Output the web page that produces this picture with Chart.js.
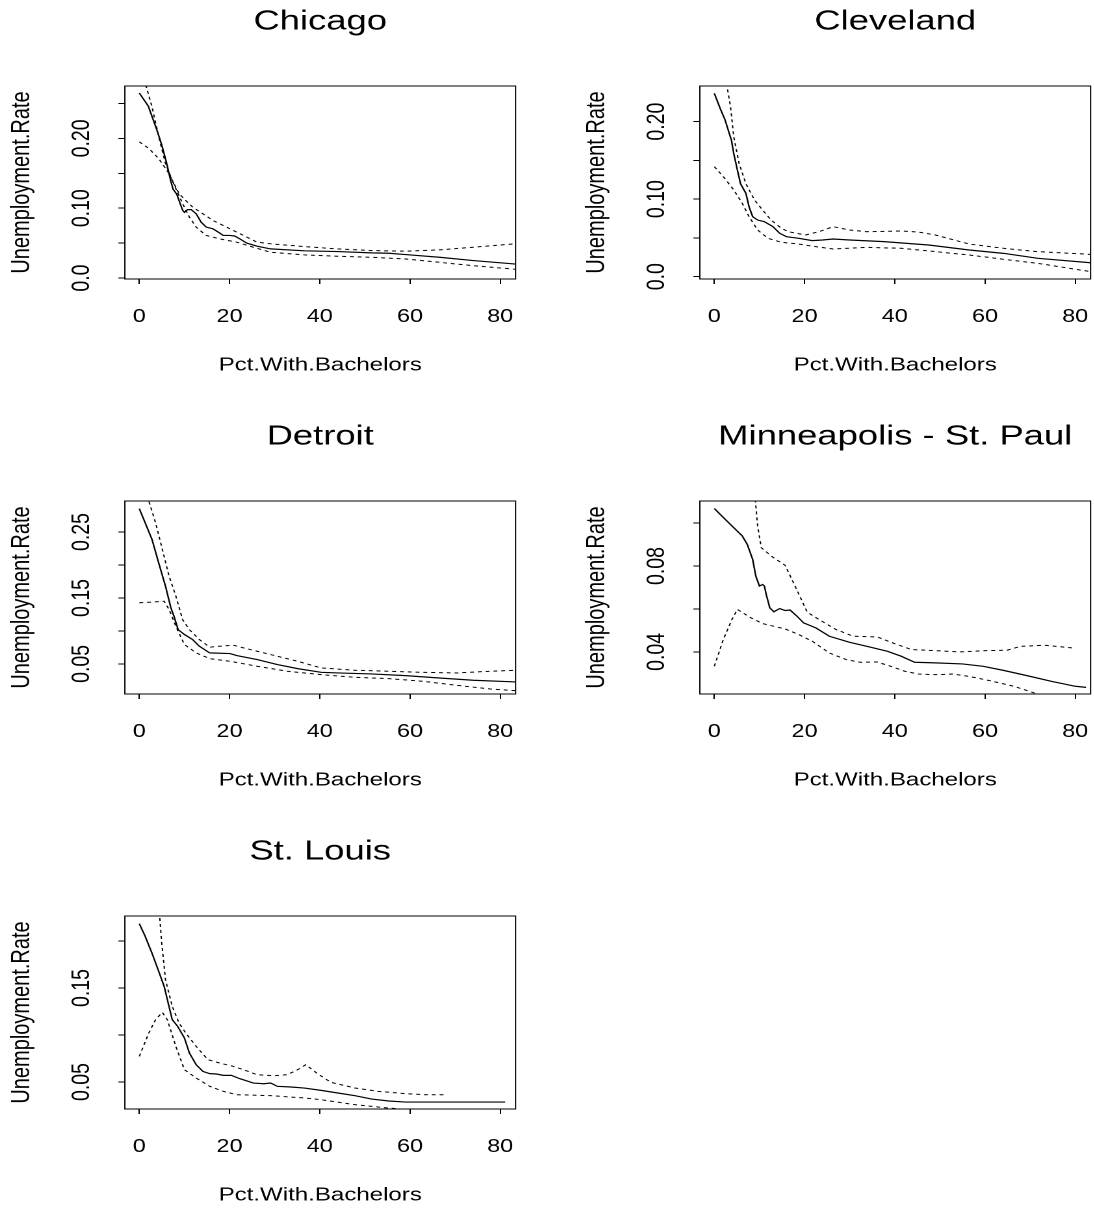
<!DOCTYPE html>
<html lang="en">
<head>
  <meta charset="UTF-8" />
  <title>Unemployment rate vs. share with bachelors degree</title>
  <script src="https://cdn.jsdelivr.net/npm/chart.js"></script>
  <style>
    body {
      margin: 0;
      background: #ffffff;
      width: 1094px;
      height: 1209px;
      overflow: hidden;
      position: relative;
    }
    /* the source plot has wide lettering, so each panel is stretched sideways */
    .panel {
      position: absolute;
      width: 400px;
      height: 400px;
      transform: scaleX(1.3);
      transform-origin: 0 0;
    }
  </style>
</head>
<body>
  <div class="panel" style="left:0px; top:0px;"><canvas id="chicago" width="400" height="400"></canvas></div>
  <div class="panel" style="left:574.5px; top:0px;"><canvas id="cleveland" width="400" height="400"></canvas></div>
  <div class="panel" style="left:0px; top:415px;"><canvas id="detroit" width="400" height="400"></canvas></div>
  <div class="panel" style="left:574.5px; top:415px;"><canvas id="minneapolis" width="400" height="400"></canvas></div>
  <div class="panel" style="left:0px; top:830px;"><canvas id="stlouis" width="400" height="400"></canvas></div>

  <script>
    // shared x axis
    const xRange = [-3.2, 83.4];
    const xTicks = [0, 20, 40, 60, 80];

    // Chicago: [pct with bachelors, unemployment rate]
    const chicagoFit = [[0,0.265],[2,0.246],[4,0.21],[5,0.19],[6,0.166],[7,0.138],[7.5,0.127],[8.3,0.12],[8.8,0.111],[9.6,0.097],[10,0.094],[10.7,0.098],[11.5,0.098],[12.6,0.092],[13.7,0.08],[14.8,0.073],[16.3,0.0705],[17.5,0.0657],[18.6,0.061],[20.1,0.061],[21.2,0.06],[22.3,0.056],[23.8,0.05],[26.1,0.0456],[29.1,0.0417],[36.6,0.039],[44,0.0379],[51.5,0.036],[55.3,0.0355],[59,0.0336],[66.5,0.0297],[74,0.025],[83.4,0.02]];
    const chicagoUpper = [[0,0.31],[1.5,0.275],[2.8,0.2456],[4.3,0.2024],[5.8,0.164],[7.3,0.14],[8.8,0.121],[10.3,0.111],[11.8,0.1017],[14.1,0.092],[16.3,0.0825],[20.1,0.0705],[23.1,0.061],[26.1,0.0513],[29.1,0.049],[36.6,0.045],[44,0.0417],[51.5,0.0393],[59,0.0384],[66.5,0.0403],[74,0.0441],[83.4,0.049]];
    const chicagoLower = [[0,0.195],[2.1,0.1856],[4.3,0.171],[6.6,0.1496],[8.1,0.128],[9.6,0.1065],[11.1,0.0873],[12.6,0.0729],[14.8,0.061],[17.8,0.0561],[21.6,0.0513],[25.3,0.0441],[29.1,0.0369],[36.6,0.0331],[44,0.0312],[51.5,0.0297],[59,0.0273],[66.5,0.0225],[74,0.0177],[83.4,0.0125]];
    const chicagoYRange = [-0.0014, 0.275];
    const chicagoYTicks = [0, 0.05, 0.1, 0.15, 0.2, 0.25];
    const chicagoYLabels = ['0.0', '', '0.10', '', '0.20', ''];

    // Cleveland
    const clevelandFit = [[0,0.2366],[1.3,0.217],[2.4,0.202],[3.3,0.185],[3.8,0.176],[4.3,0.159],[5.1,0.138],[5.8,0.12],[7,0.1075],[7.7,0.0903],[8.5,0.0774],[9.6,0.0731],[11.1,0.071],[13,0.0645],[14.5,0.0559],[16,0.0516],[18.7,0.0495],[21.7,0.0465],[24,0.0473],[26.3,0.0486],[30,0.0473],[37.6,0.0452],[47.5,0.0409],[56.5,0.0344],[64.1,0.0301],[71.7,0.0237],[83.4,0.018]];
    const clevelandUpper = [[2,0.28],[2.8,0.246],[3.6,0.219],[4.3,0.1806],[5.5,0.146],[7,0.12],[8.9,0.099],[10.7,0.086],[12.6,0.073],[14.9,0.0624],[16.4,0.058],[20.2,0.0538],[23.2,0.058],[26.3,0.0645],[30,0.0602],[33.8,0.058],[41.4,0.0589],[45.2,0.0576],[49,0.0538],[56.5,0.0421],[64.1,0.0366],[71.7,0.0323],[83.4,0.0288]];
    const clevelandLower = [[0,0.142],[2,0.129],[4.3,0.112],[6.2,0.0946],[7.7,0.0774],[9.6,0.0602],[11.9,0.0495],[14.9,0.0443],[18.7,0.0421],[22.5,0.0387],[26.3,0.0357],[33.8,0.0378],[41.4,0.0366],[49,0.0323],[56.5,0.028],[64.1,0.0224],[71.7,0.0172],[83.4,0.0065]];
    const clevelandYRange = [-0.003, 0.246];
    const clevelandYTicks = [0, 0.05, 0.1, 0.15, 0.2];
    const clevelandYLabels = ['0.0', '', '0.10', '', '0.20'];

    // Detroit
    const detroitFit = [[0,0.2854],[1.3,0.264],[2.8,0.239],[4.3,0.203],[5.8,0.168],[7,0.135],[7.7,0.122],[8.6,0.102],[10,0.0946],[11.8,0.087],[13.3,0.0768],[15.6,0.0667],[20.1,0.0657],[21.6,0.0627],[26.1,0.0566],[30.6,0.049],[35.1,0.0429],[40.3,0.0373],[44,0.0363],[51.5,0.0348],[59,0.0323],[66.5,0.0287],[74,0.0252],[83.4,0.0227]];
    const detroitUpper = [[0,0.34],[2.1,0.297],[3.6,0.264],[5.1,0.2237],[6.6,0.183],[8.1,0.1528],[9.6,0.117],[11.1,0.102],[13.3,0.087],[15.6,0.0753],[17.8,0.0768],[20.8,0.0784],[23.1,0.0743],[29.1,0.0642],[35.1,0.054],[40.3,0.0439],[47.8,0.0404],[55.3,0.0389],[62.8,0.0373],[70.3,0.0363],[77.8,0.0389],[83.4,0.0404]];
    const detroitLower = [[0,0.1427],[2.8,0.1437],[5.5,0.145],[6.6,0.1325],[8.1,0.107],[10,0.0794],[12.6,0.0667],[15.6,0.058],[20.1,0.054],[26.1,0.0465],[32.8,0.0389],[40.3,0.0338],[47.8,0.0297],[55.3,0.0277],[62.8,0.0237],[70.3,0.0176],[77.8,0.012],[83.4,0.0095]];
    const detroitYRange = [0.0044, 0.297];
    const detroitYTicks = [0.05, 0.1, 0.15, 0.2, 0.25];
    const detroitYLabels = ['0.05', '', '0.15', '', '0.25'];

    // Minneapolis - St. Paul
    const minneapolisFit = [[0,0.1068],[2,0.1026],[4.3,0.0979],[6.2,0.094],[7.3,0.0901],[8.5,0.0831],[9.2,0.0753],[10,0.0707],[10.7,0.0714],[11.1,0.0707],[11.5,0.0668],[12.3,0.0605],[13.2,0.0587],[14.5,0.0602],[15.7,0.0593],[16.8,0.0595],[18.3,0.0567],[19.8,0.0535],[22.5,0.0512],[25.5,0.0473],[30,0.0445],[33.8,0.0426],[38.4,0.0403],[41.4,0.038],[44.4,0.0352],[49,0.0349],[55,0.0344],[59.6,0.0333],[64.1,0.0314],[69.4,0.0289],[74.7,0.0263],[80,0.024],[82.4,0.0235]];
    const minneapolisUpper = [[8.6,0.125],[9.1,0.1104],[9.6,0.0987],[10.4,0.0886],[12.6,0.0847],[15.7,0.0803],[17.9,0.0707],[20.6,0.0585],[23.2,0.0551],[27,0.0504],[30.8,0.0473],[36.1,0.047],[39.9,0.0439],[43.7,0.0411],[49,0.0406],[54.3,0.04],[60.3,0.0406],[64.9,0.0408],[67.9,0.0426],[73.2,0.0431],[79.3,0.0419]];
    const minneapolisLower = [[0,0.0333],[2,0.0458],[3.9,0.0551],[5.1,0.0598],[8.1,0.0559],[10.7,0.0532],[15.7,0.0507],[18.7,0.0481],[21.7,0.045],[25.5,0.0395],[29.3,0.0364],[32.3,0.0352],[36.1,0.0353],[39.1,0.0333],[42.2,0.031],[45.2,0.0297],[49,0.0294],[52.8,0.0297],[56.5,0.0286],[61.1,0.0266],[66.4,0.024],[70.9,0.0209],[74,0.0193],[79,0.017]];
    const minneapolisYRange = [0.0204, 0.1103];
    const minneapolisYTicks = [0.04, 0.06, 0.08, 0.1];
    const minneapolisYLabels = ['0.04', '', '0.08', ''];

    // St. Louis
    const stlouisFit = [[0,0.2184],[1.3,0.205],[2.8,0.1872],[4.3,0.1677],[5.5,0.1518],[6.4,0.134],[7.3,0.1163],[8.5,0.1092],[10,0.0968],[11.1,0.0809],[12.6,0.0684],[14.1,0.0613],[15.6,0.0589],[17.1,0.0585],[18.6,0.0571],[20.4,0.0571],[22.3,0.0535],[25.3,0.0489],[27.6,0.0482],[29.1,0.0489],[30.6,0.0454],[33.6,0.0447],[36.6,0.0436],[40.3,0.0411],[44,0.0383],[47.8,0.0355],[51.5,0.0319],[55.3,0.0298],[59,0.0287],[66.5,0.0287],[74,0.0287],[81.1,0.0287]];
    const stlouisUpper = [[4.2,0.25],[4.5,0.227],[4.9,0.2014],[5.8,0.1589],[7.3,0.1305],[8.8,0.1128],[10.3,0.1021],[12.6,0.0879],[15.2,0.0738],[17.8,0.0702],[20.8,0.0667],[23.1,0.0631],[26.1,0.0578],[29.8,0.0567],[32.8,0.0578],[35.1,0.0631],[36.9,0.0684],[39.6,0.0585],[42.5,0.0496],[47.8,0.0436],[53,0.0401],[59,0.0376],[63.5,0.0365],[68,0.0365]];
    const stlouisLower = [[0,0.0773],[2.1,0.1021],[3.6,0.1163],[5.1,0.1241],[6.2,0.1163],[8.1,0.0879],[10,0.0631],[12.6,0.0543],[15.6,0.0454],[18.6,0.0401],[21.6,0.0365],[29.1,0.0355],[36.6,0.033],[40.3,0.0312],[47.8,0.0259],[55.3,0.0223],[59.8,0.0206]];
    const stlouisYRange = [0.0213, 0.2266];
    const stlouisYTicks = [0.05, 0.1, 0.15, 0.2];
    const stlouisYLabels = ['0.05', '', '0.15', ''];

    Chart.defaults.font.family = "'Liberation Sans', Arial, Helvetica, sans-serif";
    Chart.defaults.color = '#000';

    // frame around the plotting region
    const boxPlugin = {
      id: 'box',
      afterDraw(chart) {
        const { ctx, chartArea: a } = chart;
        ctx.save();
        ctx.strokeStyle = '#000';
        ctx.lineWidth = 1;
        ctx.strokeRect(a.left, a.top, a.right - a.left, a.bottom - a.top);
        ctx.restore();
      }
    };

    function drawPanel(id, title, fit, upper, lower, yRange, yTicks, yLabels) {
      new Chart(document.getElementById(id), {
        type: 'line',
        data: {
          datasets: [
            { data: fit, borderColor: '#000', borderWidth: 1.2, pointRadius: 0 },
            { data: upper, borderColor: '#000', borderWidth: 1, borderDash: [3, 3], pointRadius: 0 },
            { data: lower, borderColor: '#000', borderWidth: 1, borderDash: [3, 3], pointRadius: 0 }
          ]
        },
        plugins: [boxPlugin],
        options: {
          responsive: false,
          animation: false,
          devicePixelRatio: 2,
          events: [],
          layout: { padding: { left: 0, right: 3.4, top: 0, bottom: 23.3 } },
          plugins: {
            legend: { display: false },
            tooltip: { enabled: false },
            title: {
              display: true,
              text: title,
              fullSize: false,
              color: '#000',
              font: { size: 28, weight: 'normal', lineHeight: 1 },
              padding: { top: 8, bottom: 50 }
            }
          },
          scales: {
            x: {
              type: 'linear',
              min: xRange[0],
              max: xRange[1],
              afterBuildTicks: s => { s.ticks = xTicks.map(v => ({ value: v })); },
              afterFit: s => { s.height = 97.7; s.paddingLeft = 0; s.paddingRight = 0; },
              border: { display: false },
              grid: { drawOnChartArea: false, tickLength: 5, color: '#000' },
              ticks: { autoSkip: false, maxRotation: 0, padding: 22, font: { size: 18 } },
              title: { display: true, text: 'Pct.With.Bachelors', font: { size: 18.5 }, padding: 0 }
            },
            y: {
              type: 'linear',
              min: yRange[0],
              max: yRange[1],
              afterBuildTicks: s => { s.ticks = yTicks.map(v => ({ value: v })); },
              afterFit: s => { s.width = 96.05; s.paddingTop = 0; s.paddingBottom = 0; },
              border: { display: false },
              grid: { drawOnChartArea: false, tickLength: 5, color: '#000' },
              ticks: {
                autoSkip: false,
                minRotation: 90,
                maxRotation: 90,
                crossAlign: 'center',
                padding: 9,
                font: { size: 19.5 },
                callback: (v, i) => yLabels[i]
              },
              title: { display: true, text: 'Unemployment.Rate', font: { size: 20 }, padding: { top: 4.8, bottom: 0 } }
            }
          }
        }
      });
    }

    drawPanel('chicago', 'Chicago', chicagoFit, chicagoUpper, chicagoLower, chicagoYRange, chicagoYTicks, chicagoYLabels);
    drawPanel('cleveland', 'Cleveland', clevelandFit, clevelandUpper, clevelandLower, clevelandYRange, clevelandYTicks, clevelandYLabels);
    drawPanel('detroit', 'Detroit', detroitFit, detroitUpper, detroitLower, detroitYRange, detroitYTicks, detroitYLabels);
    drawPanel('minneapolis', 'Minneapolis - St. Paul', minneapolisFit, minneapolisUpper, minneapolisLower, minneapolisYRange, minneapolisYTicks, minneapolisYLabels);
    drawPanel('stlouis', 'St. Louis', stlouisFit, stlouisUpper, stlouisLower, stlouisYRange, stlouisYTicks, stlouisYLabels);
  </script>
</body>
</html>
